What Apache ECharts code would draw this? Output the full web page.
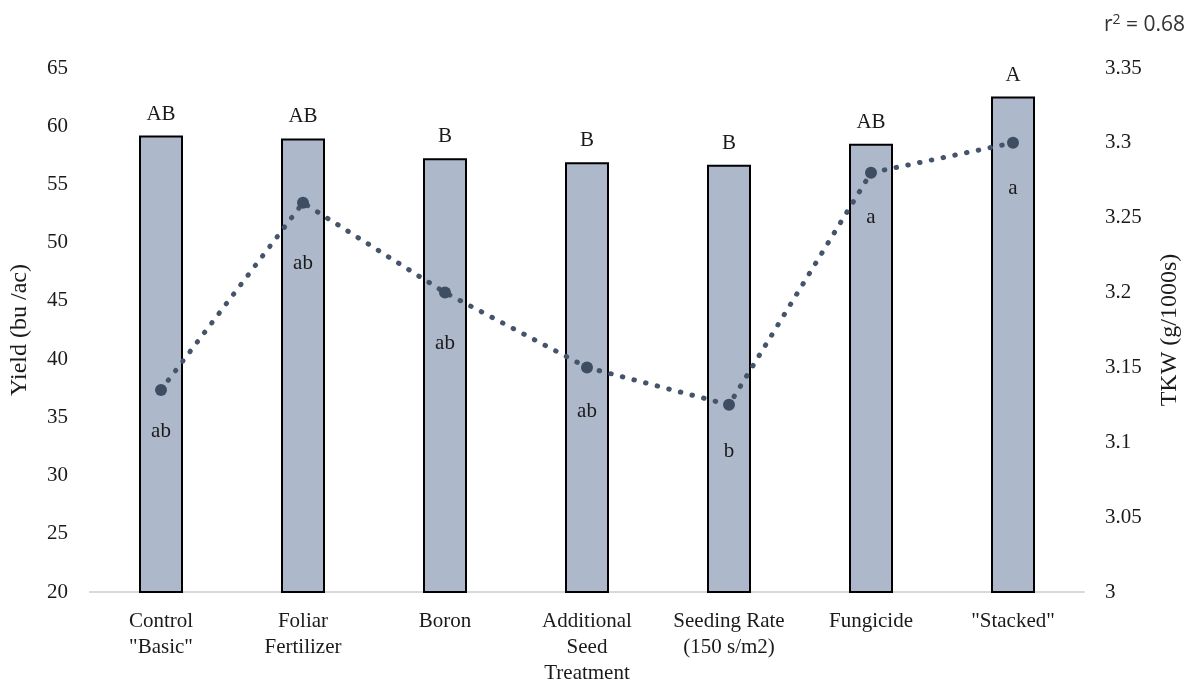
<!DOCTYPE html>
<html>
<head>
<meta charset="utf-8">
<script src="https://cdn.jsdelivr.net/npm/echarts@6/dist/echarts.min.js"></script>
<style>html,body{margin:0;padding:0;background:#fff;}#c{width:1194px;height:686px;}</style>
</head>
<body>
<div id="c"></div>
<script>
const categories = ['Control\n"Basic"', 'Foliar\nFertilizer', 'Boron', 'Additional\nSeed\nTreatment', 'Seeding Rate\n(150 s/m2)', 'Fungicide', '"Stacked"'];
const yieldValues = [59.2, 58.95, 57.25, 56.9, 56.7, 58.5, 62.55];
const yieldLetters = ['AB', 'AB', 'B', 'B', 'B', 'AB', 'A'];
const tkwValues = [3.135, 3.26, 3.2, 3.15, 3.125, 3.28, 3.30];
const tkwLetters = ['ab', 'ab', 'ab', 'ab', 'b', 'a', 'a'];
const tkwLabelGap = [25, 44, 34, 28, 30, 28, 29];

const serif = '"Liberation Serif", "Times New Roman", serif';
const sans = '"Open Sans", "Liberation Sans", sans-serif';
const chart = echarts.init(document.getElementById('c'));
chart.setOption({
  animation: false,
  backgroundColor: '#ffffff',
  textStyle: { fontFamily: serif },
  title: {
    text: 'r{sup|2} = 0.68',
    right: 4, top: 8,
    textStyle: {
      fontFamily: sans, fontSize: 21, fontWeight: 'normal', color: '#333333',
      rich: { sup: { fontSize: 14, verticalAlign: 'top', padding: [0, 0, 10, 0], color: '#333333', fontFamily: sans } }
    }
  },
  grid: { left: 88, right: 110, top: 68, bottom: 91, containLabel: false },
  xAxis: {
    type: 'category',
    data: categories,
    axisLine: { lineStyle: { color: '#d9d9d9', width: 2 } },
    axisTick: { show: false },
    axisLabel: { fontFamily: serif, fontSize: 21, color: '#1a1a1a', margin: 16, lineHeight: 26, interval: 0 }
  },
  yAxis: [
    {
      type: 'value', min: 20, max: 65, interval: 5,
      name: 'Yield (bu /ac)', nameLocation: 'middle', nameGap: 58,
      nameTextStyle: { fontFamily: serif, fontSize: 24, color: '#1a1a1a' },
      axisLine: { show: false }, axisTick: { show: false }, splitLine: { show: false },
      axisLabel: { fontFamily: serif, fontSize: 21, color: '#1a1a1a', margin: 22 }
    },
    {
      type: 'value', min: 3, max: 3.35, interval: 0.05,
      name: 'TKW (g/1000s)', nameLocation: 'middle', nameGap: 74, nameRotate: 90,
      nameTextStyle: { fontFamily: serif, fontSize: 24, color: '#1a1a1a' },
      axisLine: { show: false }, axisTick: { show: false }, splitLine: { show: false },
      axisLabel: { fontFamily: serif, fontSize: 21, color: '#1a1a1a', margin: 21,
        formatter: v => String(Math.round(v * 100) / 100) }
    }
  ],
  series: [
    {
      type: 'bar',
      yAxisIndex: 0,
      barWidth: 44,
      data: yieldValues,
      itemStyle: { color: '#adb9ca', borderColor: '#000000', borderWidth: 2 },
      label: {
        show: true, position: 'top', distance: 11,
        fontFamily: serif, fontSize: 21, color: '#1a1a1a',
        formatter: p => yieldLetters[p.dataIndex]
      }
    },
    {
      type: 'line',
      yAxisIndex: 1,
      data: tkwValues.map((v, i) => ({
        value: v,
        label: { show: true, position: 'bottom', distance: tkwLabelGap[i], formatter: tkwLetters[i] }
      })),
      symbol: 'circle', symbolSize: 12,
      itemStyle: { color: '#3f4d63' },
      lineStyle: { color: '#44546a', width: 5, type: [0.5, 11.5], cap: 'round' },
      label: { fontFamily: serif, fontSize: 21, color: '#1a1a1a' },
      z: 5
    }
  ]
});
</script>
</body>
</html>
